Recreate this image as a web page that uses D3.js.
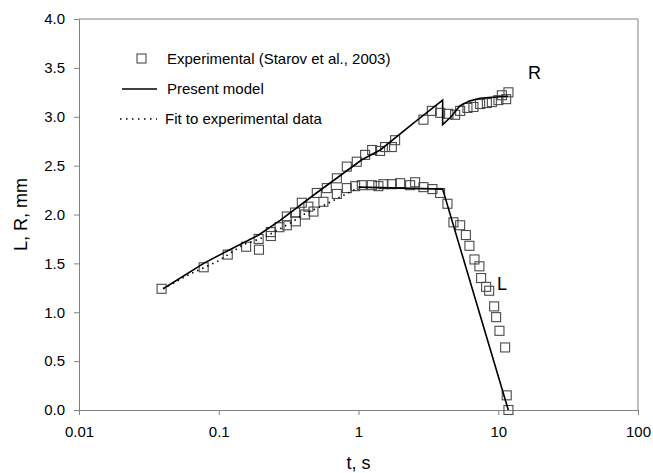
<!DOCTYPE html>
<html>
<head>
<meta charset="utf-8">
<script src="https://cdn.jsdelivr.net/npm/d3@7"></script>
<style>
  body { margin: 0; background: #fff; }
  svg { display: block; font-family: "Liberation Sans", Arial, sans-serif; }
</style>
</head>
<body>
<div id="chart"></div>
<script>
// Experimental points (Starov et al., 2003): R branch
const expRT = [0.039, 0.078, 0.116, 0.157, 0.193, 0.236, 0.272, 0.307, 0.352, 0.393,
  0.503, 0.593, 0.70, 0.825, 0.972, 1.115, 1.252, 1.428, 1.55, 1.732,
  1.828, 2.915, 3.347, 3.838, 4.40, 4.914, 5.337, 6.018, 6.645, 7.42,
  8.29, 9.00, 10.03, 10.61, 11.39, 11.83];
const expR = [1.24, 1.46, 1.59, 1.67, 1.75, 1.82, 1.87, 1.98, 2.02, 2.12,
  2.22, 2.27, 2.37, 2.49, 2.54, 2.61, 2.66, 2.65, 2.69, 2.69,
  2.76, 2.97, 3.06, 3.04, 3.03, 3.02, 3.06, 3.09, 3.10, 3.13,
  3.14, 3.15, 3.17, 3.22, 3.18, 3.25];

// Experimental points: L branch
const expLT = [0.194, 0.236, 0.307, 0.356, 0.415, 0.438, 0.476, 0.561, 0.70, 0.825,
  0.946, 1.056, 1.245, 1.388, 1.507, 1.732, 1.986, 2.341, 2.542, 2.915,
  3.381, 3.838, 4.33, 4.78, 5.337, 5.865, 6.22, 6.76, 7.33, 7.54,
  8.19, 8.61, 9.35, 9.66, 10.2, 11.2, 11.5, 11.83];
const expL = [1.64, 1.78, 1.89, 1.93, 2.00, 2.08, 2.03, 2.13, 2.21, 2.27,
  2.29, 2.30, 2.30, 2.29, 2.31, 2.31, 2.32, 2.30, 2.33, 2.28,
  2.26, 2.22, 2.11, 1.92, 1.89, 1.79, 1.68, 1.54, 1.47, 1.35,
  1.26, 1.22, 1.06, 0.95, 0.81, 0.64, 0.15, 0.0];

// Present model, R
const modelRT = [0.04, 0.078, 0.116, 0.193, 0.275, 0.5, 1.056, 1.43, 2.5, 4.0,
  4.0, 4.6, 5.3, 6.2, 7.4, 9.0, 11.8];
const modelR = [1.24, 1.50, 1.63, 1.79, 1.94, 2.22, 2.56, 2.66, 2.94, 3.17,
  2.92, 3.00, 3.11, 3.16, 3.19, 3.20, 3.21];

// Present model, L
const modelLT = [1.0, 2.0, 4.0, 11.8];
const modelL = [2.28, 2.27, 2.26, 0.0];

// Fit to experimental data
const fitT = [0.04, 0.062, 0.098, 0.149, 0.214, 0.333, 0.415, 0.577, 0.718, 0.895, 1.0];
const fitV = [1.24, 1.39, 1.52, 1.69, 1.77, 1.92, 2.01, 2.10, 2.17, 2.24, 2.27];

const xTicks = [0.01, 0.1, 1, 10, 100];
const xTickLabels = ["0.01", "0.1", "1", "10", "100"];
const yTicks = [0, 0.5, 1, 1.5, 2, 2.5, 3, 3.5, 4];

const W = 653, H = 473;
const margin = { top: 19, right: 15, bottom: 63, left: 79 };
const width = W - margin.left - margin.right;
const height = H - margin.top - margin.bottom;
const axisColor = "#808080";
const markColor = "#4a4a4a";

const svg = d3.select("#chart").append("svg")
  .attr("width", W).attr("height", H);
const g = svg.append("g")
  .attr("transform", `translate(${margin.left},${margin.top})`);

const x = d3.scaleLog().domain([0.01, 100]).range([0, width]);
const y = d3.scaleLinear().domain([0, 4]).range([height, 0]);

// axes
const xAxis = g.append("g")
  .attr("transform", `translate(0,${height})`)
  .call(d3.axisBottom(x).tickValues(xTicks)
    .tickFormat((d, i) => xTickLabels[i]).tickSize(5).tickSizeOuter(0).tickPadding(11));
const yAxis = g.append("g")
  .call(d3.axisLeft(y).tickValues(yTicks)
    .tickFormat(d3.format(".1f")).tickSize(5).tickSizeOuter(0).tickPadding(9));
[xAxis, yAxis].forEach(a => {
  a.selectAll("path, line").attr("stroke", axisColor);
  a.selectAll("text").attr("fill", "#000").style("font-size", "15px");
});

// top and right frame
g.append("line").attr("x1", 0).attr("x2", width).attr("y1", 0).attr("y2", 0)
  .attr("stroke", axisColor);
g.append("line").attr("x1", width).attr("x2", width).attr("y1", 0).attr("y2", height)
  .attr("stroke", axisColor);

// axis titles
svg.append("text")
  .attr("x", margin.left + x(1)).attr("y", 469)
  .attr("text-anchor", "middle").style("font-size", "18px").text("t, s");
svg.append("text")
  .attr("transform", `translate(27,${margin.top + height / 2}) rotate(-90)`)
  .attr("text-anchor", "middle").style("font-size", "18px").text("L, R, mm");

const line = d3.line().x(d => x(d[0])).y(d => y(d[1]));
const zip = (a, b) => a.map((v, i) => [v, b[i]]);

// experimental squares
const pts = zip(expRT, expR).concat(zip(expLT, expL));
const sq = 9;
g.append("g").selectAll("rect").data(pts).join("rect")
  .attr("x", d => x(d[0]) - sq / 2).attr("y", d => y(d[1]) - sq / 2)
  .attr("width", sq).attr("height", sq)
  .attr("fill", "none").attr("stroke", markColor).attr("stroke-width", 1.1);

// model lines
g.append("path").datum(zip(modelRT, modelR))
  .attr("fill", "none").attr("stroke", "#000").attr("stroke-width", 1.6).attr("d", line);
g.append("path").datum(zip(modelLT, modelL))
  .attr("fill", "none").attr("stroke", "#000").attr("stroke-width", 1.6).attr("d", line);
g.append("path").datum(zip(fitT, fitV))
  .attr("fill", "none").attr("stroke", "#000").attr("stroke-width", 1.6)
  .attr("stroke-dasharray", "1.5,4").attr("d", line);

// curve labels
svg.append("text").attr("x", 528).attr("y", 79).style("font-size", "18px").text("R");
svg.append("text").attr("x", 497).attr("y", 290).style("font-size", "18px").text("L");

// legend
const leg = svg.append("g").style("font-size", "15px");
leg.append("rect").attr("x", 137).attr("y", 54).attr("width", sq).attr("height", sq)
  .attr("fill", "none").attr("stroke", markColor).attr("stroke-width", 1.1);
leg.append("text").attr("x", 167).attr("y", 64).text("Experimental (Starov et al., 2003)");
leg.append("line").attr("x1", 122).attr("x2", 157).attr("y1", 89).attr("y2", 89)
  .attr("stroke", "#000").attr("stroke-width", 1.4);
leg.append("text").attr("x", 167).attr("y", 94).text("Present model");
leg.append("line").attr("x1", 120).attr("x2", 157).attr("y1", 119).attr("y2", 119)
  .attr("stroke", "#000").attr("stroke-width", 1.4).attr("stroke-dasharray", "1.5,4.5");
leg.append("text").attr("x", 165).attr("y", 124).text("Fit to experimental data");
</script>
</body>
</html>
